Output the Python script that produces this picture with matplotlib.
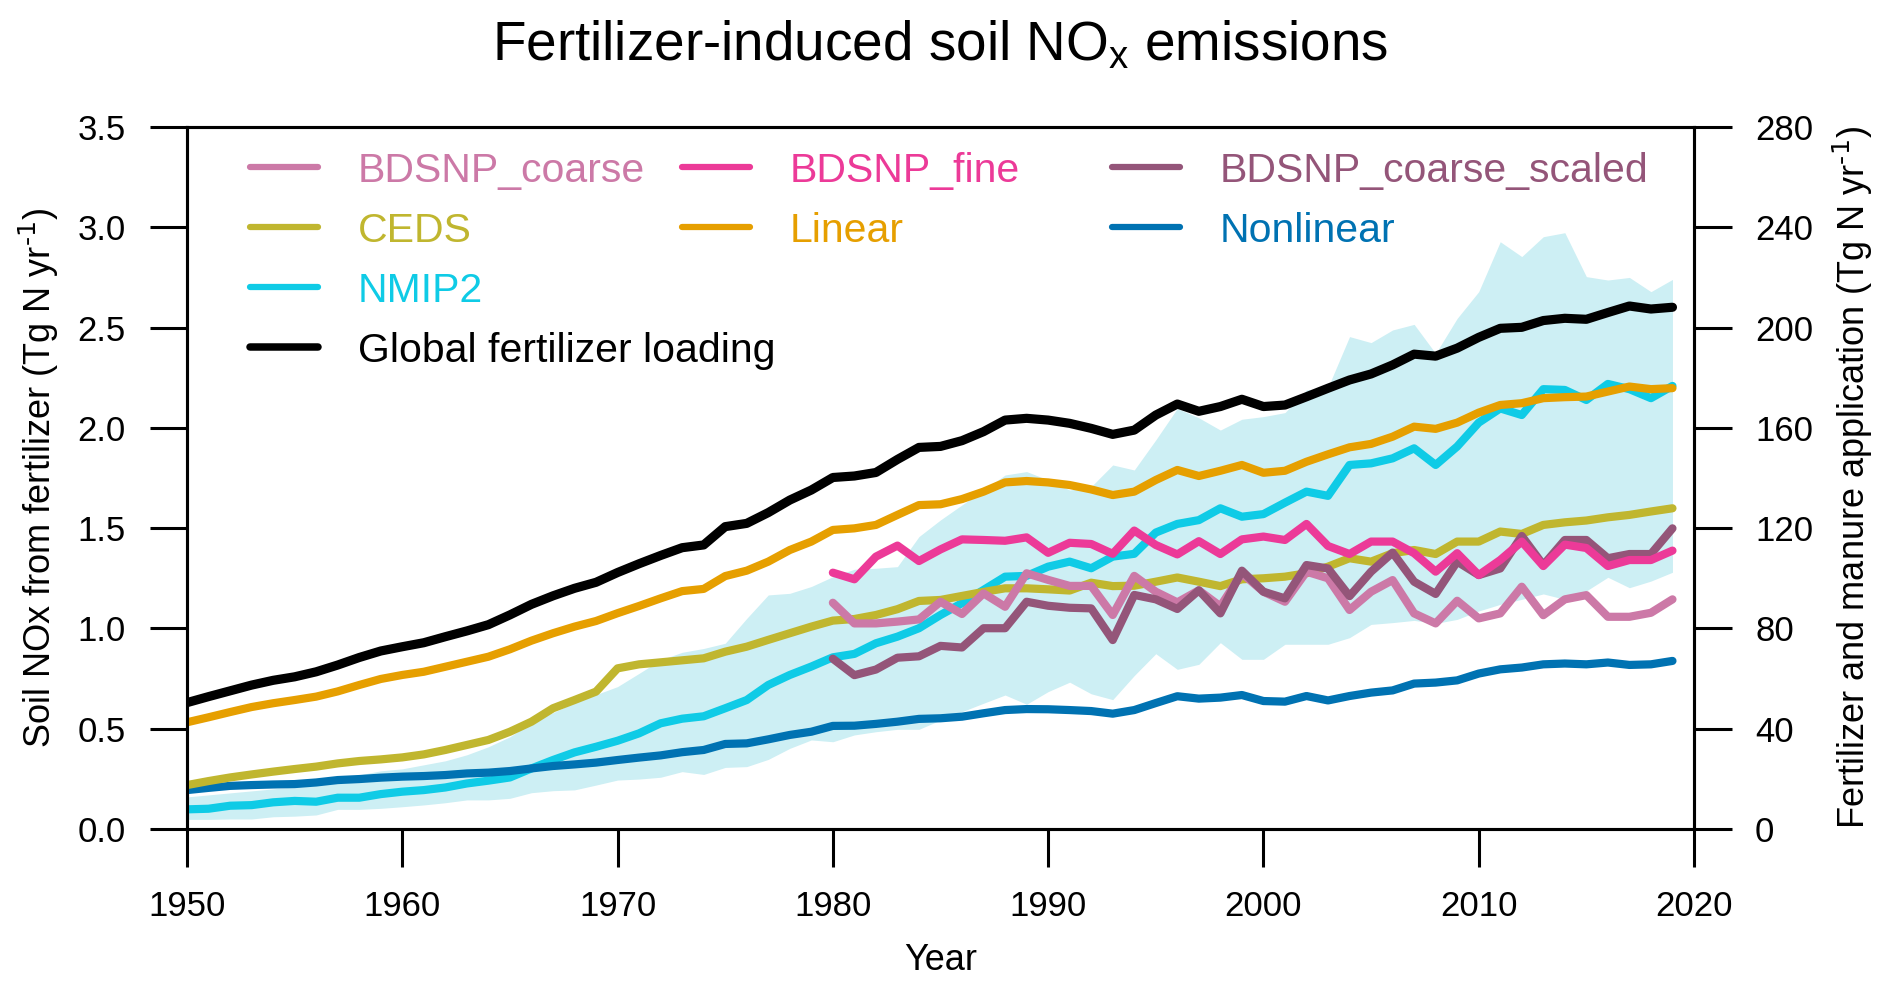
import numpy as np
import matplotlib
matplotlib.use("Agg")
import matplotlib.pyplot as plt

plt.rcParams["font.family"] = ["Liberation Sans", "DejaVu Sans"]
plt.rcParams["mathtext.default"] = "regular"

# ── data ──────────────────────────────────────────────────────────────────────
years = np.arange(1950, 2020)
years_bdsnp = np.arange(1980, 2020)

# global fertilizer + manure loading, Tg N / yr (right axis)
fert_load = [
    50.4, 52.8, 55.1, 57.4, 59.3, 60.7, 62.7, 65.4, 68.4, 71.0,
    72.7, 74.3, 76.7, 79.0, 81.5, 85.4, 89.6, 93.0, 96.0, 98.4,
    102.3, 105.8, 109.1, 112.2, 113.3, 120.6, 121.9, 126.2, 131.2, 135.2,
    140.2, 140.8, 142.2, 147.4, 152.2, 152.6, 154.9, 158.5, 163.1, 163.8,
    163.1, 161.8, 159.8, 157.4, 159.1, 165.1, 169.5, 166.6, 168.5, 171.4,
    168.5, 169.1, 172.4, 175.8, 179.1, 181.5, 185.1, 189.4, 188.6, 191.8,
    196.1, 199.7, 200.1, 202.8, 203.7, 203.3, 206.0, 208.6, 207.4, 208.1,
]

linear = [
    0.532, 0.557, 0.583, 0.608, 0.627, 0.643, 0.660, 0.686, 0.718, 0.748,
    0.768, 0.784, 0.809, 0.834, 0.859, 0.896, 0.939, 0.976, 1.009, 1.037,
    1.076, 1.112, 1.150, 1.186, 1.197, 1.261, 1.288, 1.333, 1.391, 1.433,
    1.491, 1.499, 1.516, 1.566, 1.615, 1.619, 1.645, 1.682, 1.728, 1.735,
    1.728, 1.715, 1.693, 1.665, 1.682, 1.740, 1.790, 1.760, 1.786, 1.815,
    1.776, 1.786, 1.831, 1.868, 1.903, 1.920, 1.956, 2.006, 1.995, 2.026,
    2.076, 2.114, 2.123, 2.148, 2.153, 2.156, 2.181, 2.206, 2.193, 2.198,
]

ceds = [
    0.219, 0.239, 0.257, 0.272, 0.286, 0.299, 0.311, 0.327, 0.339, 0.347,
    0.357, 0.372, 0.394, 0.419, 0.444, 0.485, 0.535, 0.602, 0.643, 0.685,
    0.801, 0.821, 0.831, 0.841, 0.851, 0.884, 0.909, 0.943, 0.976, 1.009,
    1.039, 1.047, 1.067, 1.096, 1.137, 1.142, 1.162, 1.182, 1.200, 1.200,
    1.195, 1.189, 1.228, 1.211, 1.213, 1.233, 1.254, 1.233, 1.211, 1.245,
    1.250, 1.258, 1.275, 1.308, 1.350, 1.333, 1.375, 1.391, 1.371, 1.433,
    1.433, 1.483, 1.471, 1.516, 1.529, 1.538, 1.554, 1.566, 1.583, 1.599,
]

nonlinear = [
    0.194, 0.205, 0.215, 0.219, 0.222, 0.224, 0.232, 0.244, 0.249, 0.256,
    0.261, 0.264, 0.269, 0.277, 0.281, 0.289, 0.302, 0.314, 0.322, 0.331,
    0.344, 0.356, 0.367, 0.383, 0.394, 0.424, 0.427, 0.447, 0.469, 0.485,
    0.514, 0.515, 0.524, 0.535, 0.549, 0.552, 0.560, 0.577, 0.593, 0.598,
    0.597, 0.593, 0.588, 0.575, 0.593, 0.628, 0.662, 0.650, 0.655, 0.668,
    0.638, 0.635, 0.663, 0.641, 0.663, 0.680, 0.691, 0.725, 0.730, 0.741,
    0.775, 0.796, 0.805, 0.821, 0.825, 0.821, 0.830, 0.818, 0.821, 0.838,
]

nmip2 = [
    0.098, 0.101, 0.116, 0.119, 0.133, 0.140, 0.136, 0.156, 0.156, 0.174,
    0.186, 0.194, 0.207, 0.227, 0.241, 0.257, 0.302, 0.344, 0.382, 0.410,
    0.440, 0.477, 0.527, 0.550, 0.562, 0.602, 0.643, 0.718, 0.768, 0.810,
    0.856, 0.873, 0.926, 0.959, 1.001, 1.067, 1.126, 1.192, 1.258, 1.262,
    1.308, 1.333, 1.300, 1.358, 1.372, 1.478, 1.521, 1.540, 1.599, 1.557,
    1.570, 1.627, 1.682, 1.661, 1.815, 1.823, 1.848, 1.898, 1.815, 1.907,
    2.026, 2.097, 2.064, 2.193, 2.189, 2.139, 2.219, 2.193, 2.148, 2.209,
]

# NMIP2 model spread
nmip2_lo = [
    0.048, 0.048, 0.050, 0.050, 0.061, 0.064, 0.070, 0.098, 0.098, 0.103,
    0.111, 0.120, 0.131, 0.145, 0.145, 0.153, 0.181, 0.191, 0.195, 0.219,
    0.244, 0.249, 0.258, 0.286, 0.272, 0.307, 0.311, 0.347, 0.402, 0.444,
    0.435, 0.469, 0.485, 0.497, 0.497, 0.543, 0.585, 0.627, 0.668, 0.622,
    0.685, 0.732, 0.674, 0.645, 0.765, 0.874, 0.796, 0.821, 0.929, 0.846,
    0.846, 0.921, 0.921, 0.921, 0.954, 1.020, 1.029, 1.040, 1.025, 1.045,
    1.087, 1.120, 1.145, 1.172, 1.145, 1.187, 1.255, 1.203, 1.236, 1.280,
]
nmip2_hi = [
    0.16, 0.17, 0.18, 0.19, 0.20, 0.21, 0.22, 0.24, 0.27, 0.29,
    0.30, 0.32, 0.34, 0.37, 0.41, 0.46, 0.53, 0.58, 0.63, 0.67,
    0.71, 0.776, 0.843, 0.881, 0.90, 0.926, 1.05, 1.167, 1.175, 1.209,
    1.258, 1.295, 1.300, 1.308, 1.458, 1.541, 1.616, 1.690, 1.765, 1.782,
    1.740, 1.690, 1.707, 1.815, 1.790, 1.940, 2.097, 2.050, 1.989, 2.043,
    2.056, 2.076, 2.189, 2.202, 2.455, 2.425, 2.488, 2.516, 2.371, 2.546,
    2.679, 2.928, 2.854, 2.953, 2.973, 2.754, 2.737, 2.750, 2.679, 2.740,
]

bdsnp_fine = [
    1.278, 1.245, 1.358, 1.413, 1.336, 1.394, 1.444, 1.441, 1.437, 1.454,
    1.377, 1.427, 1.421, 1.372, 1.488, 1.416, 1.369, 1.435, 1.371, 1.444,
    1.458, 1.441, 1.521, 1.411, 1.371, 1.433, 1.433, 1.375, 1.283, 1.375,
    1.266, 1.341, 1.433, 1.311, 1.418, 1.401, 1.311, 1.341, 1.341, 1.388,
]
bdsnp_coarse = [
    1.128, 1.025, 1.025, 1.034, 1.045, 1.133, 1.072, 1.175, 1.108, 1.275,
    1.242, 1.212, 1.212, 1.067, 1.262, 1.183, 1.130, 1.190, 1.110, 1.275,
    1.183, 1.133, 1.283, 1.250, 1.092, 1.183, 1.241, 1.075, 1.025, 1.138,
    1.050, 1.075, 1.208, 1.066, 1.145, 1.166, 1.058, 1.058, 1.078, 1.145,
]
bdsnp_coarse_scaled = [
    0.849, 0.767, 0.795, 0.854, 0.861, 0.913, 0.905, 1.001, 1.001, 1.133,
    1.113, 1.103, 1.100, 0.942, 1.167, 1.145, 1.097, 1.190, 1.075, 1.288,
    1.183, 1.150, 1.316, 1.299, 1.161, 1.283, 1.378, 1.233, 1.172, 1.333,
    1.266, 1.299, 1.461, 1.316, 1.441, 1.441, 1.350, 1.371, 1.371, 1.499,
]

# ── colours ───────────────────────────────────────────────────────────────────
C_COARSE = "#CC79A7"
C_FINE = "#EC3A98"
C_SCALED = "#945579"
C_CEDS = "#C0B62F"
C_LINEAR = "#E69F00"
C_NONLIN = "#0072B2"
C_NMIP2 = "#0FCBE6"
C_SHADE = "#CDEFF4"

LW = 5.9

# ── figure ────────────────────────────────────────────────────────────────────
W, H = 1892, 991
fig = plt.figure(figsize=(W / 100, H / 100), dpi=100)
AX_L, AX_R, AX_T, AX_B = 187, 1694, 127, 829   # axes box in pixels
ax = fig.add_axes([AX_L / W, 1 - AX_B / H, (AX_R - AX_L) / W, (AX_B - AX_T) / H])

ax.fill_between(years, nmip2_lo, nmip2_hi, color=C_SHADE, lw=0, zorder=1)
kw = dict(lw=LW, solid_capstyle="round", solid_joinstyle="round")
ax.plot(years, nmip2, color=C_NMIP2, zorder=2, **kw)
ax.plot(years, nonlinear, color=C_NONLIN, zorder=3, **kw)
ax.plot(years, ceds, color=C_CEDS, zorder=4, **kw)
ax.plot(years_bdsnp, bdsnp_coarse, color=C_COARSE, zorder=5, **kw)
ax.plot(years_bdsnp, bdsnp_coarse_scaled, color=C_SCALED, zorder=6, **kw)
ax.plot(years_bdsnp, bdsnp_fine, color=C_FINE, zorder=7, **kw)
ax.plot(years, linear, color=C_LINEAR, zorder=8, **kw)

ax.set_xlim(1950, 2020)
ax.set_ylim(0, 3.5)
ax.set_xticks(np.arange(1950, 2021, 10))
ax.set_yticks(np.arange(0, 3.51, 0.5))
ax.yaxis.set_major_formatter(matplotlib.ticker.FormatStrFormatter("%.1f"))

ax2 = ax.twinx()
ax2.plot(years, fert_load, color="black", lw=6.6,
         solid_capstyle="round", solid_joinstyle="round")
ax2.set_ylim(0, 280)
ax2.set_yticks(np.arange(0, 281, 40))

for a in (ax, ax2):
    for s in a.spines.values():
        s.set_linewidth(2.2)
    a.tick_params(direction="out", length=27, width=2.2, labelsize=25, pad=17)

ax.set_xlabel("Year", fontsize=26)
ax.xaxis.set_label_coords(0.5, -0.163)
ax.set_ylabel(r"Soil NOx from fertilizer (Tg N yr$^{\text{-1}}$)", fontsize=26)
ax.yaxis.set_label_coords((61 - AX_L) / (AX_R - AX_L), 0.5)
ax2.set_ylabel(r"Fertilizer and manure application (Tg N yr$^{\text{-1}}$)",
               fontsize=26)
ax2.yaxis.set_label_coords((1831 - AX_L) / (AX_R - AX_L), 0.5)

fig.text(0.497, 1 - 60 / H, "Fertilizer-induced soil NO$_{x}$ emissions",
         ha="center", va="baseline", fontsize=39.5)

# ── legend, laid out by hand in three columns ─────────────────────────────────
legend_labels = ["BDSNP_coarse", "BDSNP_fine", "BDSNP_coarse_scaled",
                 "CEDS", "Linear", "Nonlinear",
                 "NMIP2", "Global fertilizer loading"]
legend_colors = [C_COARSE, C_FINE, C_SCALED, C_CEDS, C_LINEAR, C_NONLIN,
                 C_NMIP2, "black"]
col_px = [250, 682, 1112]
row_px = [167, 227, 287, 347]
slots = [(0, 0), (0, 1), (0, 2), (1, 0), (1, 1), (1, 2), (2, 0), (3, 0)]


def fx(px):
    return (px - AX_L) / (AX_R - AX_L)


def fy(py):
    return (AX_B - py) / (AX_B - AX_T)


for lab, col, (r, c) in zip(legend_labels, legend_colors, slots):
    x0 = col_px[c]
    y0 = row_px[r]
    lw = 5.4 if col == "black" else 4.5
    ax2.plot([fx(x0), fx(x0 + 68)], [fy(y0), fy(y0)], color=col, lw=lw,
             transform=ax2.transAxes, solid_capstyle="round")
    ax2.text(fx(x0 + 108), fy(y0 + 15), lab, color=col, fontsize=29.5,
             ha="left", va="baseline", transform=ax2.transAxes)

fig.savefig("out.png", dpi=100, facecolor="white")
